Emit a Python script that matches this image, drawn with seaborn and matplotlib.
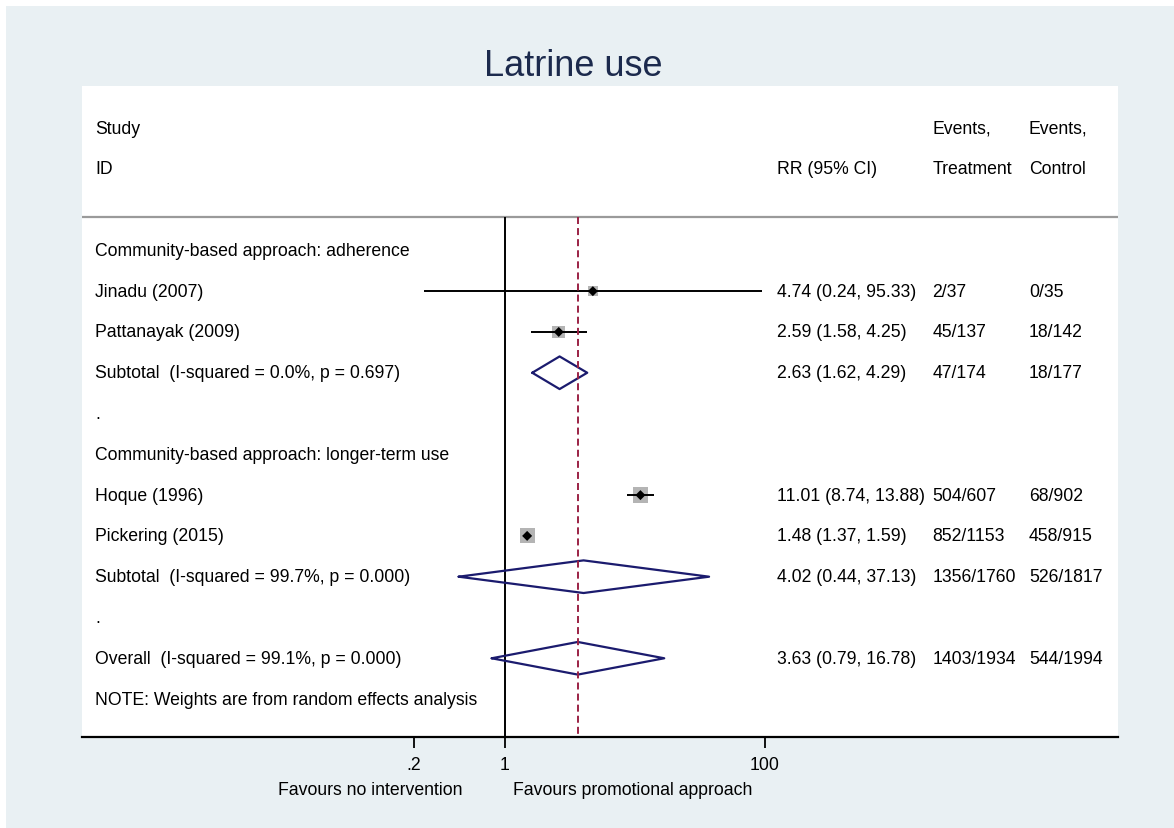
import numpy as np
import pandas as pd
import matplotlib
matplotlib.use('Agg')
import matplotlib.pyplot as plt
import matplotlib.transforms as mtrans
from matplotlib.patches import Rectangle
from matplotlib.ticker import NullLocator
import seaborn as sns

# study level data
studies = ['Jinadu (2007)', 'Pattanayak (2009)', 'Hoque (1996)', 'Pickering (2015)']
study_rows = [4, 5, 9, 10]
rr = [4.74, 2.59, 11.01, 1.48]
rr_lo = [0.24, 1.58, 8.74, 1.37]
rr_hi = [95.33, 4.25, 13.88, 1.59]
weight = [12.3, 21.8, 34.1, 31.8]
ev_treat = ['2/37', '45/137', '504/607', '852/1153']
ev_ctrl = ['0/35', '18/142', '68/902', '458/915']

# pooled estimates
pooled = ['Subtotal  (I-squared = 0.0%, p = 0.697)',
          'Subtotal  (I-squared = 99.7%, p = 0.000)',
          'Overall  (I-squared = 99.1%, p = 0.000)']
pooled_rows = [6, 11, 13]
pool_rr = [2.63, 4.02, 3.63]
pool_lo = [1.62, 0.44, 0.79]
pool_hi = [4.29, 37.13, 16.78]
pool_treat = ['47/174', '1356/1760', '1403/1934']
pool_ctrl = ['18/177', '526/1817', '544/1994']

groups = ['Community-based approach: adherence', 'Community-based approach: longer-term use']
group_rows = [3, 8]
dot_rows = [7, 12]

df = pd.DataFrame({'study': studies, 'row': study_rows, 'rr': rr, 'lo': rr_lo,
                   'hi': rr_hi, 'weight': weight, 'treat': ev_treat, 'ctrl': ev_ctrl})
pool = pd.DataFrame({'label': pooled, 'row': pooled_rows, 'rr': pool_rr, 'lo': pool_lo,
                     'hi': pool_hi, 'treat': pool_treat, 'ctrl': pool_ctrl})

sns.set_theme(style='white')
plt.rcParams['font.family'] = ['Liberation Sans', 'DejaVu Sans']
plt.rcParams['text.color'] = 'black'

W, H = 1174, 829
fig = plt.figure(figsize=(W / 100, H / 100), dpi=100, facecolor='white')
fig.patches.append(Rectangle((6 / W, 0), 1, 1 - 7 / H, transform=fig.transFigure,
                             facecolor='#e9f0f3', edgecolor='none', zorder=-1))

ax = fig.add_axes([82 / W, 1 - 738 / H, 1036 / W, (738 - 87) / H])
ax.set_facecolor('white')
ax.set_xscale('log')
ax.set_xlim(10 ** ((82 - 505) / 130), 10 ** ((1118 - 505) / 130))
ax.set_ylim(14.93, -1.03)

navy = '#1b1b6e'
fs = 12.7
tr = mtrans.blended_transform_factory(ax.transAxes, ax.transData)

# header
ax.axhline(2.18, color='#9a9a9a', lw=1.6)
ax.text(0.0125, 0, 'Study', transform=tr, va='center', fontsize=fs)
ax.text(0.0125, 1, 'ID', transform=tr, va='center', fontsize=fs)
ax.text(0.671, 1, 'RR (95% CI)', transform=tr, va='center', fontsize=fs)
ax.text(0.821, 0, 'Events,', transform=tr, va='center', fontsize=fs)
ax.text(0.821, 1, 'Treatment', transform=tr, va='center', fontsize=fs)
ax.text(0.914, 0, 'Events,', transform=tr, va='center', fontsize=fs)
ax.text(0.914, 1, 'Control', transform=tr, va='center', fontsize=fs)

# reference lines
ax.vlines(1, 2.18, 14.93, colors='black', lw=1.4, zorder=2)
ax.vlines(pool_rr[-1], 2.18, 14.93, colors='#9b2345', lw=1.4,
          linestyles=(0, (3.6, 2.1)), zorder=5)

# CI lines and weight squares
ax.hlines(df['row'], df['lo'], df['hi'], colors='black', lw=1.4, zorder=3)
sns.scatterplot(data=df, x='rr', y='row', size='weight', sizes=(55, 125), marker='s',
                color='#b4b4b4', edgecolor='none', legend=False, ax=ax, zorder=2)
sns.scatterplot(data=df, x='rr', y='row', marker='D', s=26, color='black',
                edgecolor='none', legend=False, ax=ax, zorder=4)

# pooled diamonds
for _, p in pool.iterrows():
    ax.plot([p['lo'], p['rr'], p['hi'], p['rr'], p['lo']],
            [p['row'], p['row'] - 0.4, p['row'], p['row'] + 0.4, p['row']],
            color=navy, lw=1.6, zorder=4)

# text columns
for _, s in df.iterrows():
    ax.text(0.0125, s['row'], s['study'], transform=tr, va='center', fontsize=fs)
    ax.text(0.671, s['row'], f"{s['rr']:.2f} ({s['lo']:.2f}, {s['hi']:.2f})",
            transform=tr, va='center', fontsize=fs)
    ax.text(0.821, s['row'], s['treat'], transform=tr, va='center', fontsize=fs)
    ax.text(0.914, s['row'], s['ctrl'], transform=tr, va='center', fontsize=fs)
for _, p in pool.iterrows():
    ax.text(0.0125, p['row'], p['label'], transform=tr, va='center', fontsize=fs)
    ax.text(0.671, p['row'], f"{p['rr']:.2f} ({p['lo']:.2f}, {p['hi']:.2f})",
            transform=tr, va='center', fontsize=fs)
    ax.text(0.821, p['row'], p['treat'], transform=tr, va='center', fontsize=fs)
    ax.text(0.914, p['row'], p['ctrl'], transform=tr, va='center', fontsize=fs)
for g, r in zip(groups, group_rows):
    ax.text(0.0125, r, g, transform=tr, va='center', fontsize=fs)
for r in dot_rows:
    ax.text(0.0125, r, '.', transform=tr, va='center', fontsize=fs)
ax.text(0.0125, 14, 'NOTE: Weights are from random effects analysis', transform=tr,
        va='center', fontsize=fs)

# x axis
for side in ['top', 'left', 'right']:
    ax.spines[side].set_visible(False)
ax.spines['bottom'].set_color('black')
ax.spines['bottom'].set_linewidth(1.6)
ax.set_yticks([])
ax.set_xticks([0.2, 1, 100])
ax.set_xticklabels(['.2', '1', '100'], fontsize=fs)
ax.xaxis.set_minor_locator(NullLocator())
ax.tick_params(axis='x', direction='out', length=8, width=1.3, pad=6,
               bottom=True, colors='black')
ax.set_xlabel('')
ax.set_ylabel('')

trb = mtrans.blended_transform_factory(ax.transData, ax.transAxes)
ax.text(10 ** ((462 - 505) / 130), -0.08, 'Favours no intervention', transform=trb,
        ha='right', va='center', fontsize=fs)
ax.text(10 ** ((513 - 505) / 130), -0.08, 'Favours promotional approach', transform=trb,
        ha='left', va='center', fontsize=fs)

fig.text(573 / W, 1 - 66 / H, 'Latrine use', ha='center', va='center',
         fontsize=26, color='#1c2a4d')

fig.savefig('out.png', dpi=100, facecolor=fig.get_facecolor())
